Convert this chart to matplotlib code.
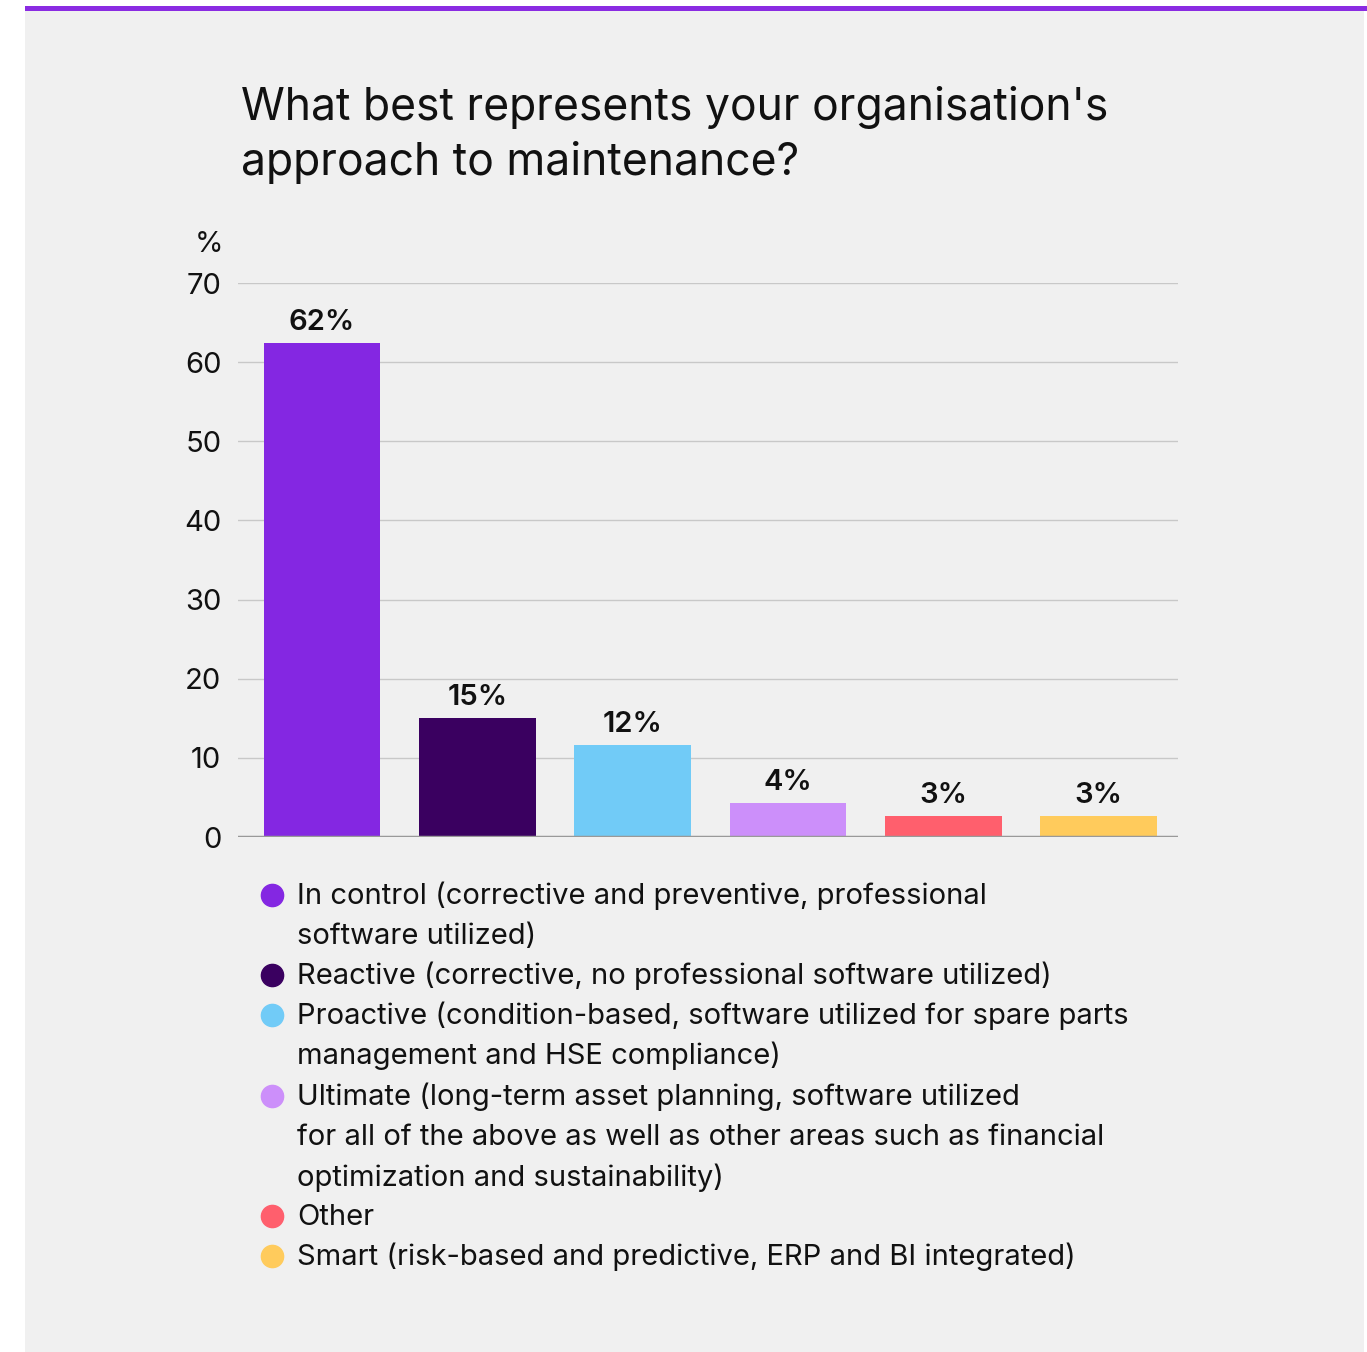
import matplotlib
matplotlib.use("Agg")
import matplotlib.pyplot as plt
from matplotlib.patches import Rectangle

plt.rcParams['font.family'] = ['Inter', 'DejaVu Sans']

categories = ["In control", "Reactive", "Proactive", "Ultimate", "Other", "Smart"]
values = [62.4, 15.0, 11.6, 4.3, 2.6, 2.6]
value_labels = ["62%", "15%", "12%", "4%", "3%", "3%"]
colors = ["#8427E2", "#3A0060", "#71CBF7", "#CC8FFA", "#FF5F6D", "#FFCB5C"]
legend_labels = [
    "In control (corrective and preventive, professional\nsoftware utilized)",
    "Reactive (corrective, no professional software utilized)",
    "Proactive (condition-based, software utilized for spare parts\nmanagement and HSE compliance)",
    "Ultimate (long-term asset planning, software utilized\nfor all of the above as well as other areas such as financial\noptimization and sustainability)",
    "Other",
    "Smart (risk-based and predictive, ERP and BI integrated)",
]
yticks = [0, 10, 20, 30, 40, 50, 60, 70]
title = "What best represents your organisation's\napproach to maintenance?"

W, H = 1367, 1352
fig = plt.figure(figsize=(W / 100, H / 100), dpi=100)
fig.patch.set_facecolor("white")

def fx(x):
    return x / W

def fy(y):
    return 1 - y / H

# background panel and top stripe on a full-figure axes behind everything
bg = fig.add_axes([0, 0, 1, 1], zorder=-10)
bg.set_xlim(0, W)
bg.set_ylim(H, 0)
bg.axis("off")
bg.add_patch(Rectangle((25, 11), 1364 - 25, H - 11, facecolor="#F0F0F0", edgecolor="none"))
bg.add_patch(Rectangle((25, 6), W - 25, 5, facecolor="#8A2BE2", edgecolor="none"))

ax = fig.add_axes([fx(238), fy(837), fx(1178) - fx(238), fy(283) - fy(837)], zorder=1)
ax.set_facecolor("none")
x = list(range(len(categories)))
ax.bar(x, values, width=0.75, color=colors, zorder=3)
ax.set_xlim(-0.54, 5.51)
ax.set_ylim(0, 70)
ax.set_yticks(yticks)
ax.set_yticklabels([str(t) for t in yticks], fontsize=21, color="#111111")
ax.set_xticks([])
for s in ["top", "right", "left", "bottom"]:
    ax.spines[s].set_visible(False)
ax.tick_params(axis="y", length=0, pad=12)
ax.grid(axis="y", color="#C8C8C8", linewidth=1, zorder=0)
ax.axhline(0, color="#999999", linewidth=2.5, zorder=4)

for xi, v, lab in zip(x, values, value_labels):
    ax.text(xi, v + 0.9, lab, ha="center", va="bottom", fontsize=21, fontweight="semibold", color="#111111")

bg.text(223, 245, "%", ha="right", va="center", fontsize=21, color="#111111")

for i, line in enumerate(title.split("\n")):
    bg.text(241, 120 + i * 55, line, ha="left", va="baseline", fontsize=32, color="#111111")

# legend
rows = [895, 975, 1015, 1096, 1216, 1256]
for lab, c, ry in zip(legend_labels, colors, rows):
    bg.plot([272], [ry], marker="o", markersize=16, color=c, linestyle="none")
    for i, line in enumerate(lab.split("\n")):
        bg.text(297, ry + 9 + i * 40.3, line, ha="left", va="baseline", fontsize=21, color="#111111")

fig.savefig("out.png", dpi=100, facecolor=fig.get_facecolor())
